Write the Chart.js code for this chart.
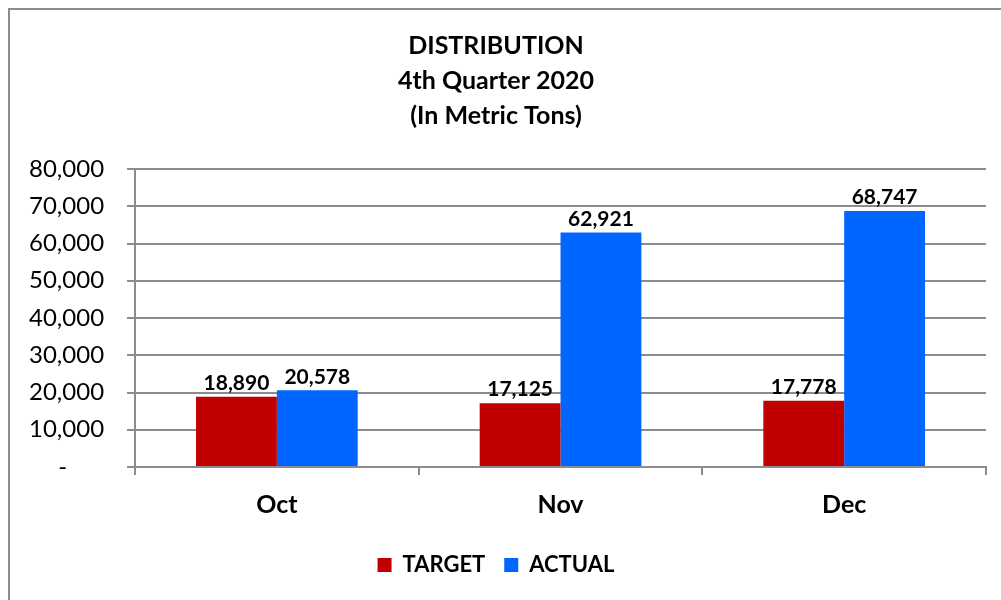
<!DOCTYPE html>
<html>
<head>
<meta charset="utf-8">
<script src="https://cdn.jsdelivr.net/npm/chart.js@4"></script>
<style>
  html, body { margin: 0; padding: 0; background: #fff; }
  #wrap { position: absolute; left: 0; top: 0; width: 1001px; height: 600px; }
  #frame { position: absolute; left: 8px; top: 8px; width: 1000px; height: 600px; border: 2px solid #8c8c8c; box-sizing: border-box; pointer-events: none; }
</style>
</head>
<body>
<div id="wrap">
  <canvas id="distChart" width="1001" height="600"></canvas>
  <div id="frame"></div>
</div>
<script>
const months = ['Oct', 'Nov', 'Dec'];
const targetTons = [18890, 17125, 17778];
const actualTons = [20578, 62921, 68747];
const titleLines = ['DISTRIBUTION', '4th Quarter 2020', '(In Metric Tons)'];

const fmt = v => v.toLocaleString('en-US');
const FONT = 'Lato, "Open Sans", sans-serif';

// draws the value above each bar
const barValues = {
    id: 'barValues',
    afterDatasetsDraw(chart) {
        const ctx = chart.ctx;
        ctx.save();
        ctx.font = 'bold 21px ' + FONT;
        ctx.fillStyle = '#000';
        ctx.textAlign = 'center';
        ctx.textBaseline = 'bottom';
        chart.data.datasets.forEach((ds, i) => {
            chart.getDatasetMeta(i).data.forEach((bar, j) => {
                ctx.fillText(fmt(ds.data[j]), bar.x, bar.y - 3);
            });
        });
        ctx.restore();
    }
};

const ctx = document.getElementById('distChart').getContext('2d');
window.distChart = new Chart(ctx, {
    type: 'bar',
    data: {
        labels: months,
        datasets: [{
            label: 'TARGET',
            data: targetTons,
            backgroundColor: '#c00000',
            borderWidth: 0
        }, {
            label: 'ACTUAL',
            data: actualTons,
            backgroundColor: '#0066ff',
            borderWidth: 0
        }]
    },
    options: {
        responsive: false,
        animation: false,
        categoryPercentage: 0.57,
        barPercentage: 1.0,
        layout: { padding: { left: 6, right: 15, top: 28, bottom: 14 } },
        plugins: {
            title: {
                display: true,
                text: titleLines,
                color: '#000',
                font: { family: FONT, size: 25, weight: 'bold', lineHeight: 1.4 },
                padding: { top: 0, bottom: 36 }
            },
            legend: {
                display: true,
                position: 'bottom',
                labels: {
                    color: '#000',
                    boxWidth: 14,
                    boxHeight: 14,
                    padding: 19,
                    font: { family: FONT, size: 22, weight: 'bold' }
                }
            },
            tooltip: { enabled: false }
        },
        scales: {
            x: {
                grid: {
                    offset: true,
                    drawOnChartArea: false,
                    drawTicks: true,
                    tickLength: 8,
                    color: '#8c8c8c',
                    lineWidth: 2
                },
                border: { color: '#8c8c8c', width: 2 },
                ticks: {
                    color: '#000',
                    padding: 15,
                    font: { family: FONT, size: 25, weight: 'bold' }
                }
            },
            y: {
                min: 0,
                max: 80000,
                ticks: {
                    stepSize: 10000,
                    color: '#000',
                    padding: 23,
                    font: { family: FONT, size: 24 },
                    callback: v => v === 0 ? '-      ' : fmt(v)
                },
                grid: {
                    color: '#8c8c8c',
                    lineWidth: 2,
                    tickLength: 8
                },
                border: { color: '#8c8c8c', width: 2 }
            }
        }
    },
    plugins: [barValues]
});
</script>
</body>
</html>
